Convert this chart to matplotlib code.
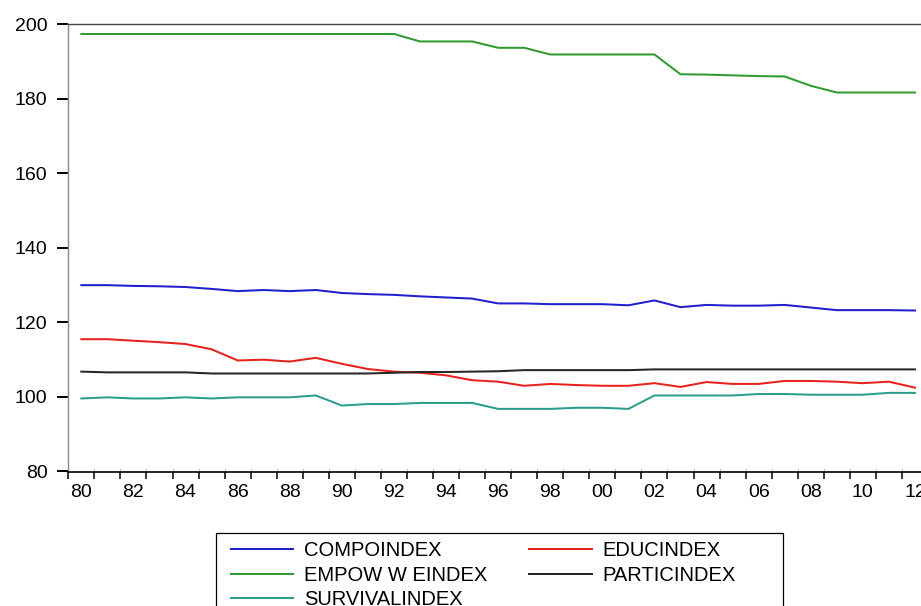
import matplotlib
matplotlib.use("Agg")
import matplotlib.pyplot as plt
from matplotlib.patches import Rectangle

plt.rcParams['font.family'] = ['Liberation Sans', 'DejaVu Sans']

# Données (1980-2012)
years = list(range(1980, 2013))

compo = [130.0, 130.0, 129.8, 129.7, 129.5, 129.0, 128.4, 128.7, 128.4, 128.7,
         127.9, 127.6, 127.4, 127.0, 126.7, 126.4, 125.1, 125.1, 124.9, 124.9,
         124.9, 124.6, 125.9, 124.1, 124.7, 124.5, 124.5, 124.7, 124.0, 123.3,
         123.3, 123.3, 123.2]
educ = [115.5, 115.5, 115.1, 114.7, 114.2, 112.8, 109.8, 110.0, 109.5, 110.5,
        108.9, 107.5, 106.8, 106.5, 105.8, 104.5, 104.1, 103.0, 103.5, 103.2,
        103.0, 103.0, 103.7, 102.7, 104.0, 103.5, 103.5, 104.3, 104.3, 104.1,
        103.7, 104.1, 102.5]
empow = [197.4, 197.4, 197.4, 197.4, 197.4, 197.4, 197.4, 197.4, 197.4, 197.4,
         197.4, 197.4, 197.4, 195.4, 195.4, 195.4, 193.7, 193.7, 191.9, 191.9,
         191.9, 191.9, 191.9, 186.6, 186.5, 186.3, 186.1, 186.0, 183.5, 181.7,
         181.7, 181.7, 181.7]
partic = [106.8, 106.6, 106.6, 106.6, 106.6, 106.3, 106.3, 106.3, 106.3, 106.3,
          106.3, 106.3, 106.5, 106.7, 106.7, 106.8, 106.9, 107.2, 107.2, 107.2,
          107.2, 107.2, 107.4, 107.4, 107.4, 107.4, 107.4, 107.4, 107.4, 107.4,
          107.4, 107.4, 107.4]
surv = [99.6, 99.9, 99.6, 99.6, 99.9, 99.6, 99.9, 99.9, 99.9, 100.4,
        97.7, 98.1, 98.1, 98.4, 98.4, 98.4, 96.8, 96.8, 96.8, 97.1,
        97.1, 96.8, 100.4, 100.4, 100.4, 100.4, 100.8, 100.8, 100.6, 100.6,
        100.6, 101.1, 101.1]

y_ticks = [80, 100, 120, 140, 160, 180, 200]

W, H = 921, 606
fig = plt.figure(figsize=(W / 100, H / 100), dpi=100)
ax = fig.add_axes([68.3 / W, 134.5 / H, 26.05 * 33 / W, 447.2 / H])

lw = 1.45
l_compo, = ax.plot(years, compo, color='#1f1fd0', lw=lw, label='COMPOINDEX')
l_educ, = ax.plot(years, educ, color='#e8211d', lw=lw, label='EDUCINDEX')
l_empow, = ax.plot(years, empow, color='#2f9a2f', lw=lw, label='EMPOW W EINDEX')
l_partic, = ax.plot(years, partic, color='#262626', lw=lw, label='PARTICINDEX')
l_surv, = ax.plot(years, surv, color='#2a9d8c', lw=lw, label='SURVIVALINDEX')

ax.set_xlim(years[0] - 0.5, years[-1] + 0.5)
ax.set_ylim(80, 200)

# Graduations : traits aux limites d'années, étiquettes au centre
bounds = [y - 0.5 for y in years] + [years[-1] + 0.5]
ax.set_xticks(bounds)
ax.set_xticklabels([])
ax.tick_params(axis='x', which='major', direction='out', length=5, width=1.1, color='black')
lab_years = [y for y in years if y % 2 == 0]
ax.set_xticks(lab_years, minor=True)
ax.set_xticklabels([f'{y % 100:02d}' for y in lab_years], minor=True)
ax.tick_params(axis='x', which='minor', length=0, pad=9.3, labelsize=14)

sec = ax.secondary_xaxis('bottom')
sec.set_xticks(bounds)
sec.tick_params(direction='in', length=3, width=0.8, color='#cccccc', labelbottom=False)
sec.spines['bottom'].set_visible(False)

ax.set_yticks(y_ticks)
ax.tick_params(axis='y', direction='out', length=8, width=1.4, color='black', pad=7, labelsize=14)

ax.spines['right'].set_visible(False)
ax.spines['top'].set_color('#444444')
ax.spines['top'].set_linewidth(1.0)
ax.spines['left'].set_color('#8a8a8a')
ax.spines['left'].set_linewidth(1.0)
ax.spines['bottom'].set_color('black')
ax.spines['bottom'].set_linewidth(1.2)

handles = [l_compo, l_empow, l_surv, l_educ, l_partic]
fig.legend(handles=handles, labels=[h.get_label() for h in handles], ncol=2,
           loc='upper left', bbox_to_anchor=(230.7 / W, 1 - 541 / H),
           frameon=False, borderpad=0, borderaxespad=0, fontsize=14.5,
           handlelength=3.1, handletextpad=0.53, columnspacing=2.1,
           labelspacing=0.28)
fig.patches.append(Rectangle((216 / W, 1 - 625 / H), 567 / W, 92 / H,
                             transform=fig.transFigure, fill=False,
                             edgecolor='black', lw=0.9))

fig.savefig('out.png', dpi=100)
